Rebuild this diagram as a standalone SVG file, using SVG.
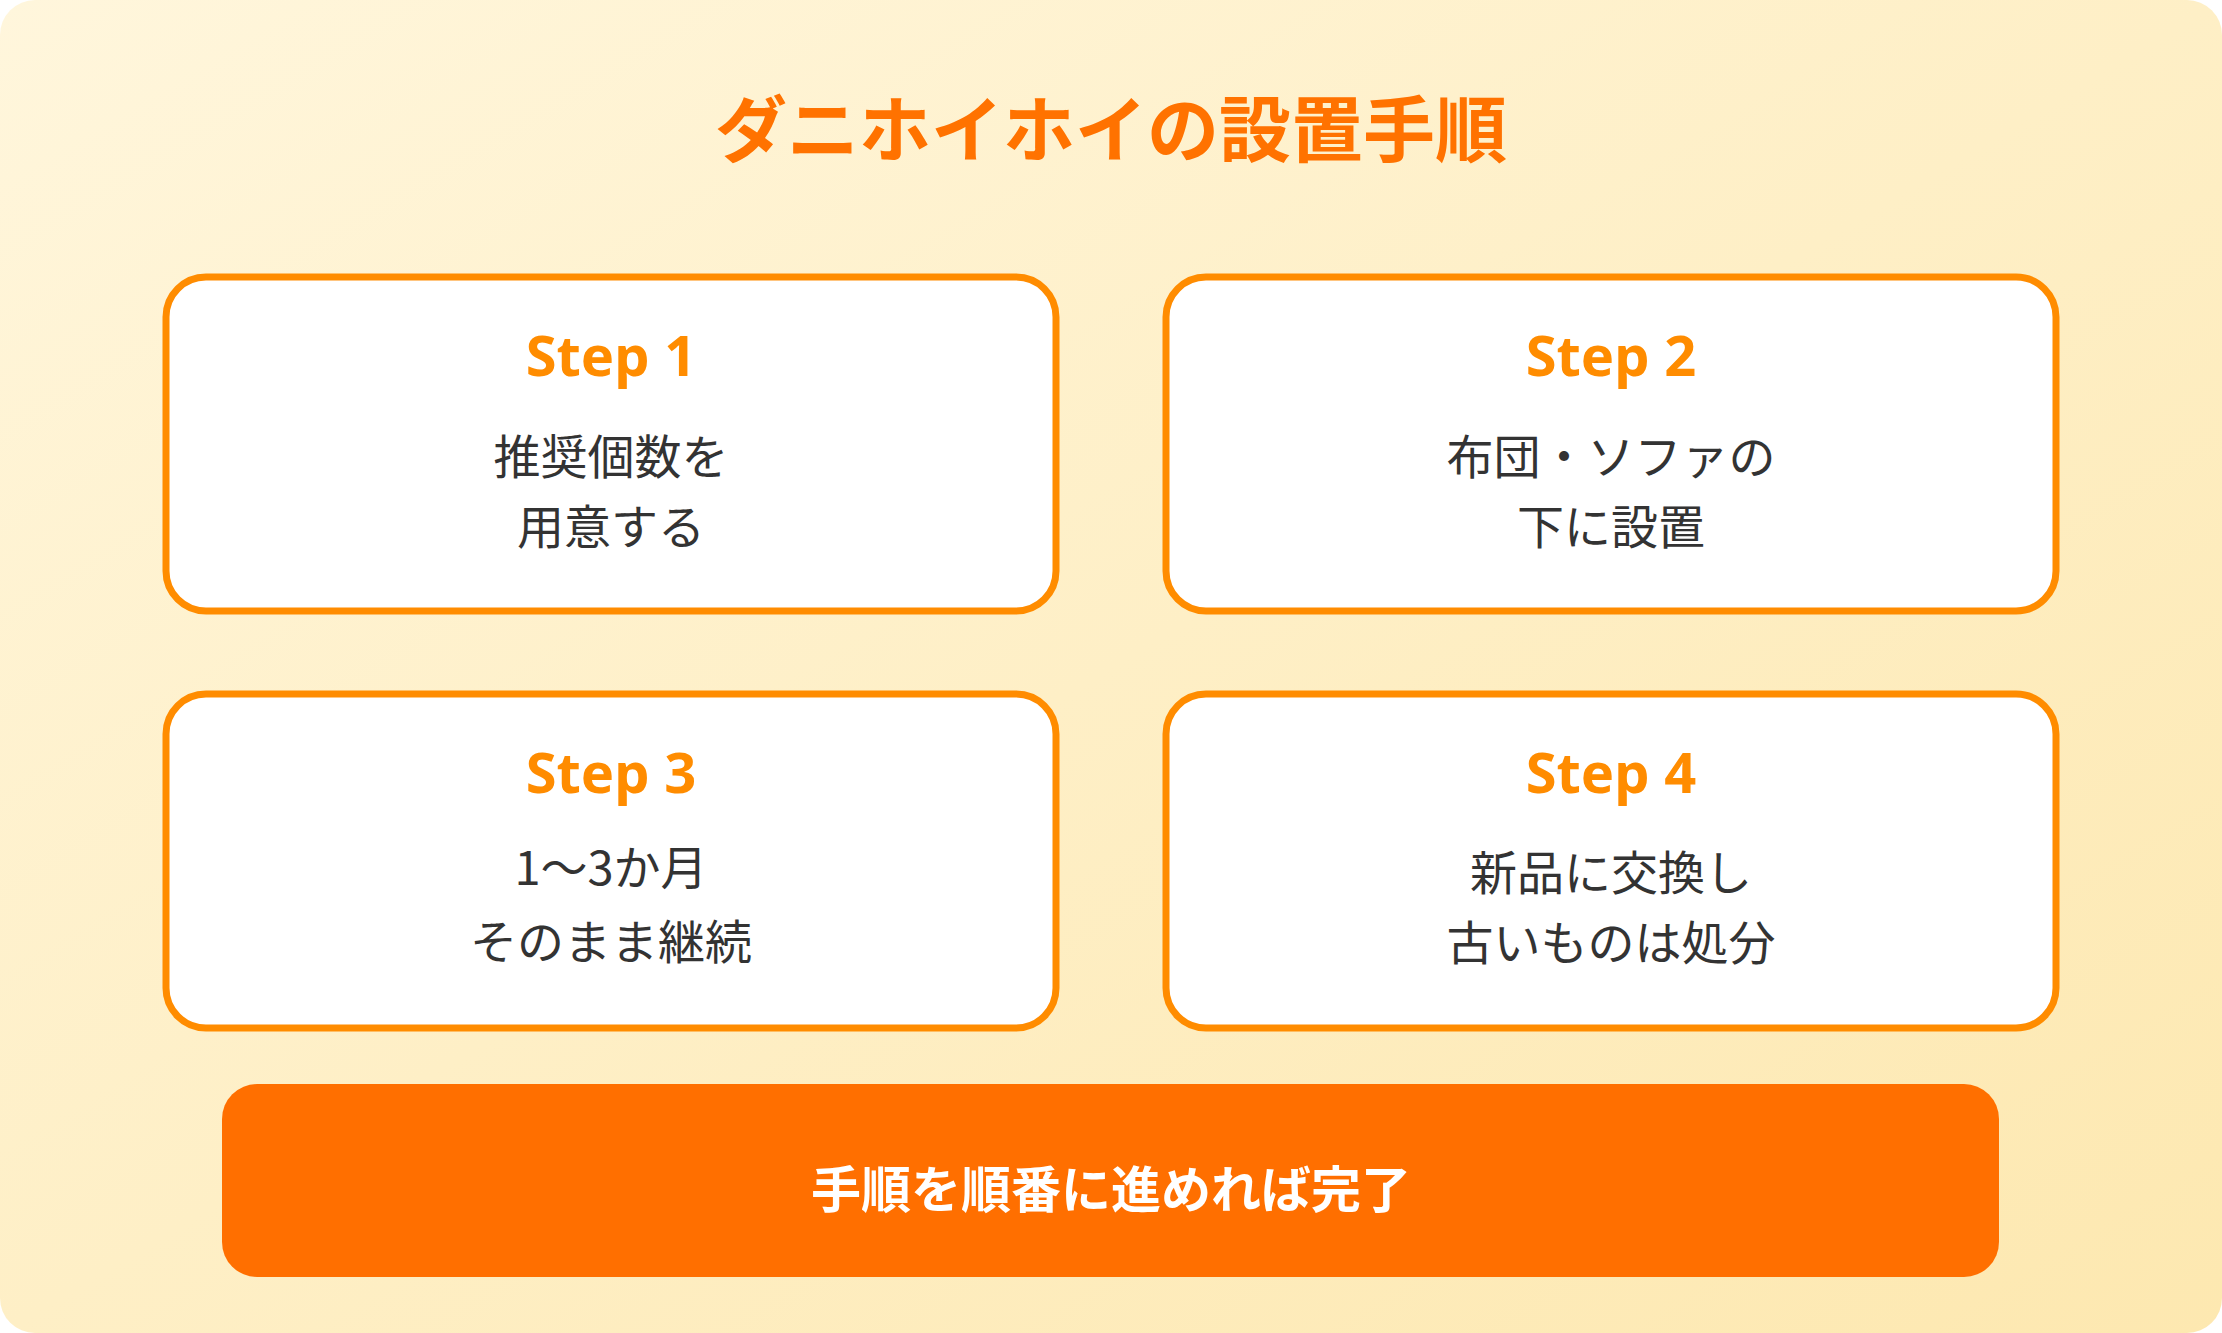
<svg xmlns="http://www.w3.org/2000/svg" width="2222" height="1333" viewBox="0 0 2222 1333">
<defs>
<linearGradient id="bg" x1="0" y1="0" x2="1" y2="1">
<stop offset="0" stop-color="#fff6dc"/>
<stop offset="1" stop-color="#fde8b0"/>
</linearGradient>
<style>
.box{fill:#fff;stroke:#ff8c00;stroke-width:7}
.step{font-family:"Noto Sans","Noto Sans CJK JP",sans-serif;font-weight:bold;font-size:56px;fill:#ff8c00;text-anchor:middle;dominant-baseline:central}
.body{font-family:"Noto Sans CJK JP",sans-serif;font-size:47px;fill:#333;text-anchor:middle;dominant-baseline:central}
</style>
</defs>
<rect x="0" y="0" width="2222" height="1333" rx="35" fill="url(#bg)"/>
<text x="1111" y="124" font-family="'Noto Sans CJK JP',sans-serif" font-weight="bold" font-size="72" fill="#ff7200" text-anchor="middle" dominant-baseline="central">ダニホイホイの設置手順</text>
<g id="step1"><rect class="box" x="166" y="277" width="890" height="334" rx="40"/>
<text class="step" x="611" y="354">Step 1</text><text class="body" x="611" y="453">推奨個数を</text><text class="body" x="611" y="523">用意する</text></g>
<g id="step2"><rect class="box" x="1166" y="277" width="890" height="334" rx="40"/>
<text class="step" x="1611" y="354">Step 2</text><text class="body" x="1611" y="453">布団・ソファの</text><text class="body" x="1611" y="523">下に設置</text></g>
<g id="step3"><rect class="box" x="166" y="694" width="890" height="334" rx="40"/>
<text class="step" x="611" y="771">Step 3</text><text class="body" x="611" y="864">1～3か月</text><text class="body" x="611" y="938">そのまま継続</text></g>
<g id="step4"><rect class="box" x="1166" y="694" width="890" height="334" rx="40"/>
<text class="step" x="1611" y="771">Step 4</text><text class="body" x="1611" y="869">新品に交換し</text><text class="body" x="1611" y="939">古いものは処分</text></g>
<g id="footer"><rect x="222" y="1084" width="1777" height="193" rx="35" fill="#ff6f00"/>
<text x="1111" y="1186" font-family="'Noto Sans CJK JP',sans-serif" font-weight="bold" font-size="50" fill="#fff" text-anchor="middle" dominant-baseline="central">手順を順番に進めれば完了</text></g>
<g id="connectors"/>
</svg>
